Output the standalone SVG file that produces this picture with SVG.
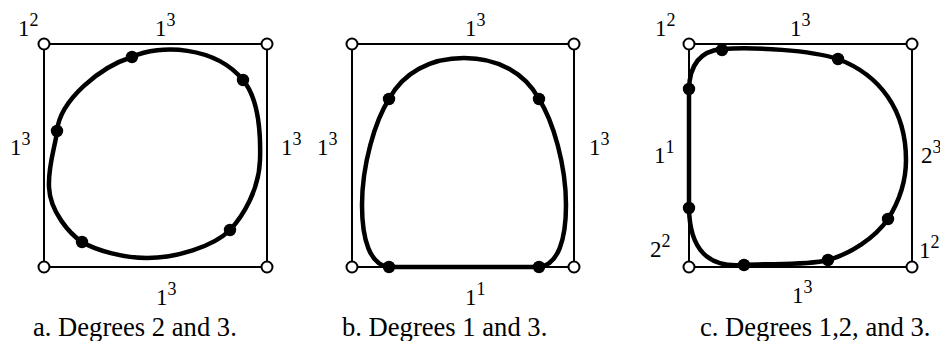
<svg xmlns="http://www.w3.org/2000/svg" width="940" height="341" viewBox="0 0 940 341" font-family="'Liberation Serif', 'DejaVu Serif', serif">
<style>
.sq{fill:none;stroke:#000;stroke-width:2}
.cv{fill:none;stroke:#000;stroke-width:4.5;stroke-linejoin:round}
.oc{fill:#fff;stroke:#000;stroke-width:2}
.dot{fill:#000}
.lb{font-size:23px;font-family:'Liberation Serif','DejaVu Serif',serif}
.sp{font-size:18px}
.cap{font-size:26.6px;font-family:'Liberation Serif','DejaVu Serif',serif}
</style>
<defs>
<circle id="o" r="5.5" class="oc"/>
<circle id="d" r="6.2" class="dot"/>
</defs>

<g id="panel-a">
<rect class="sq" x="44" y="44" width="223" height="223"/>
<path class="cv" d="M57,131 C60,100 100,67 132,57 C160,44 215,46 243,80 C258,98 261,128 260,160 C259,190 243,216 230,230 C213,247 175,258 147,258 C125,258 97,251 82,242 C70,234 50,212 49,187 C48,165 55.5,146 57,131 Z"/>
<use href="#d" x="132" y="57"/><use href="#d" x="243" y="80"/><use href="#d" x="57" y="131"/><use href="#d" x="82" y="242"/><use href="#d" x="230" y="230"/>
<use href="#o" x="44" y="44"/><use href="#o" x="267" y="44"/><use href="#o" x="44" y="267"/><use href="#o" x="267" y="267"/>
<text class="lb" x="18" y="36">1<tspan class="sp" dy="-10">2</tspan></text>
<text class="lb" x="155" y="36">1<tspan class="sp" dy="-10">3</tspan></text>
<text class="lb" x="10" y="155">1<tspan class="sp" dy="-10">3</tspan></text>
<text class="lb" x="281" y="155">1<tspan class="sp" dy="-10">3</tspan></text>
<text class="lb" x="156" y="305">1<tspan class="sp" dy="-10">3</tspan></text>
<text class="cap" x="33" y="336">a. Degrees 2 and 3.</text>
</g>

<g id="panel-b">
<rect class="sq" x="352" y="44" width="222" height="223"/>
<path class="cv" d="M389,99 C403,73 430,58 464,58 C498,58 525,73 539,99 C553,121 566,165 566,205 C566,240 558,265 539,267 L389,267 C370,265 362,240 362,205 C362,165 375,121 389,99 Z"/>
<use href="#d" x="389" y="99"/><use href="#d" x="539" y="99"/><use href="#d" x="389" y="267"/><use href="#d" x="539" y="267"/>
<use href="#o" x="352" y="44"/><use href="#o" x="574" y="44"/><use href="#o" x="352" y="267"/><use href="#o" x="574" y="267"/>
<text class="lb" x="465" y="36">1<tspan class="sp" dy="-10">3</tspan></text>
<text class="lb" x="317" y="155">1<tspan class="sp" dy="-10">3</tspan></text>
<text class="lb" x="589" y="155">1<tspan class="sp" dy="-10">3</tspan></text>
<text class="lb" x="465" y="305">1<tspan class="sp" dy="-10">1</tspan></text>
<text class="cap" x="342" y="336">b. Degrees 1 and 3.</text>
</g>

<g id="panel-c">
<rect class="sq" x="689" y="44" width="223" height="223"/>
<path class="cv" d="M689,89 L689,208 Q690,270 744,265 C768,263 805,266 828,260 C850,254 875,238 888,219 C900,200 906,180 906,160 C906,110 880,75 838,59 C810,50 755,47 722,49 Q690,52 689,89 Z"/>
<use href="#d" x="722" y="50"/><use href="#d" x="838" y="59"/><use href="#d" x="689" y="89"/><use href="#d" x="689" y="208"/><use href="#d" x="888" y="219"/><use href="#d" x="744" y="265"/><use href="#d" x="828" y="260"/>
<use href="#o" x="689" y="44"/><use href="#o" x="912" y="44"/><use href="#o" x="689" y="267"/><use href="#o" x="912" y="267"/>
<text class="lb" x="655" y="36">1<tspan class="sp" dy="-10">2</tspan></text>
<text class="lb" x="790" y="36">1<tspan class="sp" dy="-10">3</tspan></text>
<text class="lb" x="654" y="163">1<tspan class="sp" dy="-10">1</tspan></text>
<text class="lb" x="921" y="163">2<tspan class="sp" dy="-10">3</tspan></text>
<text class="lb" x="919" y="258">1<tspan class="sp" dy="-10">2</tspan></text>
<text class="lb" x="650" y="257">2<tspan class="sp" dy="-10">2</tspan></text>
<text class="lb" x="792" y="303">1<tspan class="sp" dy="-10">3</tspan></text>
<text class="cap" x="700" y="336">c. Degrees 1,2, and 3.</text>
</g>

<g id="connectors"></g>
</svg>
